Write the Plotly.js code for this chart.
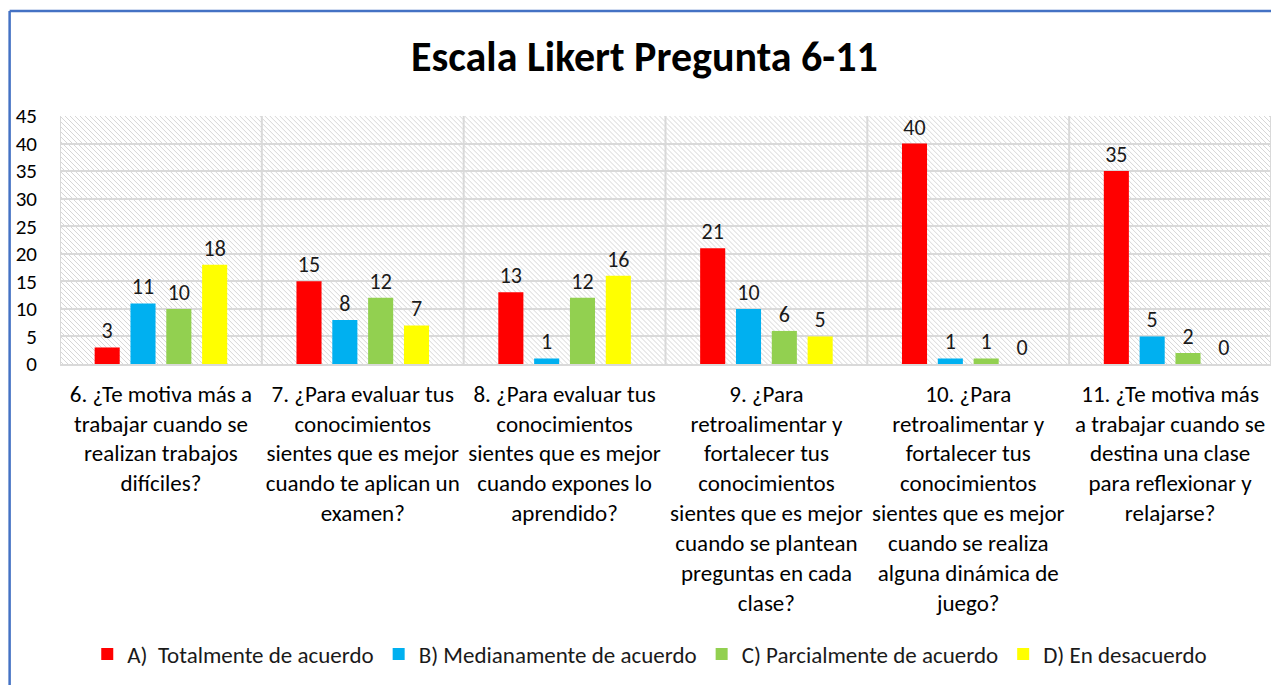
<!DOCTYPE html>
<html>
<head>
<meta charset="utf-8">
<script src="https://cdn.plot.ly/plotly-3.0.1.min.js"></script>
<style>html,body{margin:0;padding:0;background:#fff;}#chart{width:1271px;height:685px;}</style>
</head>
<body>
<div id="chart"></div>
<script>
var categories = [
  "6. ¿Te motiva más a<br>trabajar cuando se<br>realizan trabajos<br>difíciles?",
  "7. ¿Para evaluar tus<br>conocimientos<br>sientes que es mejor<br>cuando te aplican un<br>examen?",
  "8. ¿Para evaluar tus<br>conocimientos<br>sientes que es mejor<br>cuando expones lo<br>aprendido?",
  "9. ¿Para<br>retroalimentar y<br>fortalecer tus<br>conocimientos<br>sientes que es mejor<br>cuando se plantean<br>preguntas en cada<br>clase?",
  "10. ¿Para<br>retroalimentar y<br>fortalecer tus<br>conocimientos<br>sientes que es mejor<br>cuando se realiza<br>alguna dinámica de<br>juego?",
  "11. ¿Te motiva más<br>a trabajar cuando se<br>destina una clase<br>para reflexionar y<br>relajarse?"
];
var seriesNames = ["A)\u00a0 Totalmente de acuerdo", "B) Medianamente de acuerdo", "C) Parcialmente de acuerdo", "D) En desacuerdo"];
var totalmente = [3, 15, 13, 21, 40, 35];
var medianamente = [11, 8, 1, 10, 1, 5];
var parcialmente = [10, 12, 12, 6, 1, 2];
var desacuerdo = [18, 7, 16, 5, 0, 0];
var colors = ["#FF0000", "#00B0F0", "#92D050", "#FFFF00"];

var FONT = "Carlito, Lato, 'Liberation Sans', sans-serif";
var values = [totalmente, medianamente, parcialmente, desacuerdo];
var idx = categories.map(function(_, i){ return i; });
var traces = values.map(function(v, k){
  return {
    type: "bar",
    name: seriesNames[k],
    x: idx,
    y: v,
    marker: {color: colors[k]},
    text: v.map(String),
    textposition: "outside",
    cliponaxis: false,
    textfont: {family: FONT, size: 22, color: "#1a1a1a"}
  };
});

var hatch = "<svg xmlns='http://www.w3.org/2000/svg' width='1212' height='248'>" +
  "<defs><pattern id='p' width='5' height='5' patternUnits='userSpaceOnUse'>" +
  "<path d='M-1,-1 L6,6 M-1,4 L1,6 M4,-1 L6,1' stroke='#d6d6d6' stroke-width='1'/></pattern></defs>" +
  "<rect width='100%' height='100%' fill='url(#p)'/></svg>";

var layout = {
  width: 1271, height: 685,
  margin: {l: 60, r: 0, t: 116, b: 321},
  paper_bgcolor: "#ffffff",
  plot_bgcolor: "rgba(0,0,0,0)",
  font: {family: FONT, size: 22, color: "#1a1a1a"},
  title: {
    text: "<b>Escala Likert Pregunta 6-11</b>",
    font: {family: FONT, size: 42, color: "#000000"},
    x: 0.507, xref: "container", xanchor: "center",
    y: 0.918, yref: "container", yanchor: "middle"
  },
  barmode: "group",
  bargap: 0.29,
  bargroupgap: 0.3,
  xaxis: {
    type: "linear",
    range: [-0.5, 5.5],
    tickmode: "array",
    tickvals: idx,
    ticktext: categories,
    showgrid: false,
    zeroline: false,
    showline: true,
    linecolor: "#d9d9d9",
    linewidth: 2,
    ticks: "",
    ticklabelstandoff: 8,
    tickfont: {family: FONT, size: 23, color: "#000000"},
    fixedrange: true
  },
  yaxis: {
    range: [0, 45],
    dtick: 5,
    tick0: 0,
    showgrid: true,
    gridcolor: "#d9d9d9",
    gridwidth: 2,
    zeroline: false,
    showline: false,
    ticks: "",
    ticklabelstandoff: 22,
    tickfont: {family: FONT, size: 21, color: "#000000"},
    fixedrange: true
  },
  legend: {
    orientation: "h",
    x: 0.487, xanchor: "center",
    y: -1.17, yanchor: "middle",
    font: {family: FONT, size: 23, color: "#1a1a1a"},
    traceorder: "normal",
    itemwidth: 30
  },
  images: [{
    source: "data:image/svg+xml;charset=utf-8," + encodeURIComponent(hatch),
    xref: "paper", yref: "paper", x: 0, y: 1, sizex: 1, sizey: 1,
    xanchor: "left", yanchor: "top", sizing: "stretch", layer: "below"
  }],
  shapes: [],
  showlegend: true
};

// category boundary dividers (vertical grid at category boundaries)
for (var i = 0; i <= categories.length; i++) {
  layout.shapes.push({type: "line", xref: "x", yref: "paper", x0: i - 0.5, x1: i - 0.5, y0: 0, y1: 1,
    line: {color: "#d9d9d9", width: 2}, layer: "below"});
}
// blue outer chart border (left and top)
layout.shapes.push({type: "line", xref: "paper", yref: "paper", x0: -0.0416, x1: -0.0416, y0: 1.4234, y1: -1.4,
  line: {color: "#4472C4", width: 2.5}});
layout.shapes.push({type: "line", xref: "paper", yref: "paper", x0: -0.0416, x1: 1.1, y0: 1.4234, y1: 1.4234,
  line: {color: "#4472C4", width: 2.5}});

Plotly.newPlot("chart", traces, layout, {displayModeBar: false, staticPlot: true});
</script>
</body>
</html>
